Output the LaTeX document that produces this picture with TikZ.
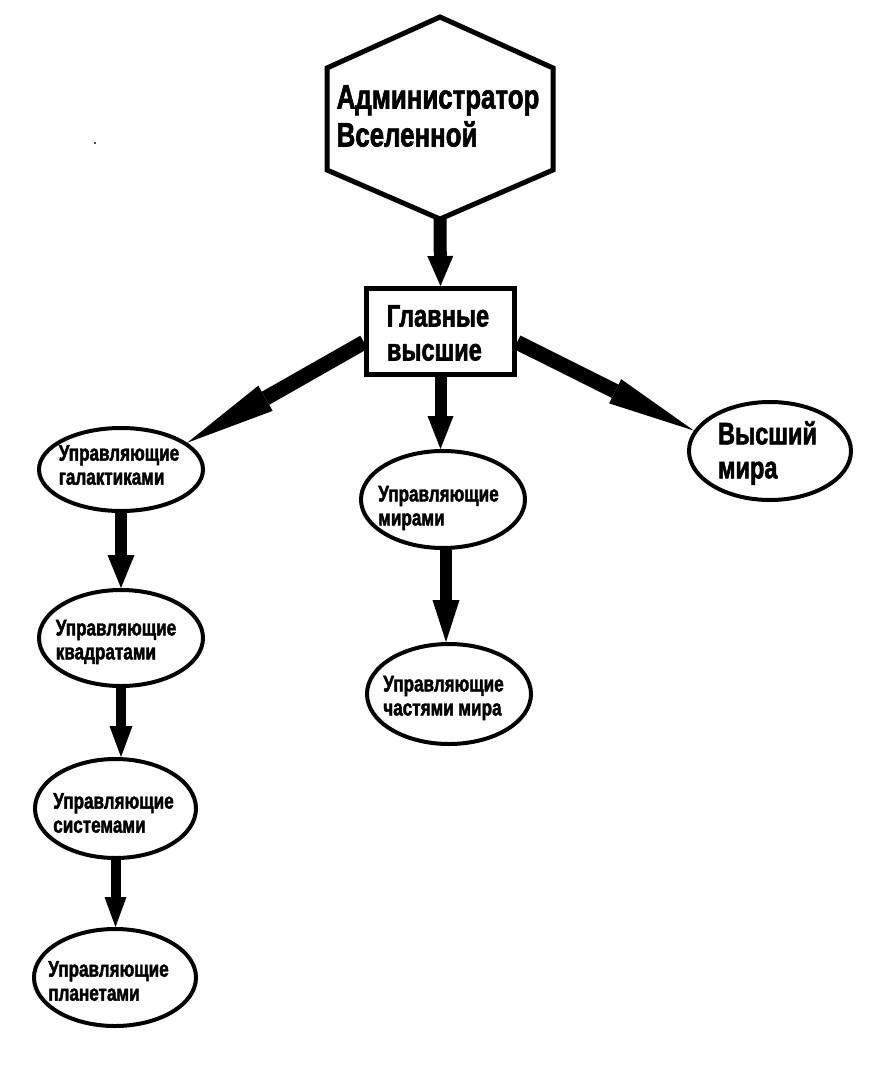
\documentclass[tikz,border=0pt]{standalone}
\usepackage{fontspec}
\newfontfamily\imp{Liberation Sans}[UprightFont={* Bold},FakeStretch=0.76,FakeBold=1.8]
\usetikzlibrary{shapes.geometric,arrows.meta}
\begin{document}
\begin{tikzpicture}[x=1pt,y=-1pt,
  ell/.style={ellipse,draw=black,line width=4pt,inner sep=0pt,fill=white},
  bigtxt/.style={font=\imp\fontsize{34}{38}\selectfont,align=left,inner sep=0pt},
  midtxt/.style={font=\imp\fontsize{31}{34}\selectfont,align=left,inner sep=0pt},
  smalltxt/.style={font=\imp\fontsize{22.5}{24}\selectfont,align=left,inner sep=0pt},
  blk/.style={line width=#1,draw=black},
]
\fill[white] (0,0) rectangle (886,1070);
\useasboundingbox (0,0) rectangle (886,1070);
\fill[black!70] (94,142) rectangle (96,144);

% hexagon
\draw[line width=5pt,line join=miter] (440,17) -- (553,68) -- (553,170) -- (440,219) -- (327,170) -- (327,68) -- cycle;
\coordinate (hexbot) at (440,219);
\node[bigtxt] (admin) at (438,116) {Администратор\\Вселенной};

% main box
\node[draw=black,line width=5pt,minimum width=148pt,minimum height=86pt,inner sep=0pt] (box) at (440.5,331.5) {};
\node[midtxt] (boxtxt) at (438,333) {Главные\\высшие};

% ellipses
\node[ell,minimum width=164pt,minimum height=83pt] (gal) at (121,469.5) {};
\node[ell,minimum width=164pt,minimum height=96pt] (sq) at (121,638) {};
\node[ell,minimum width=161pt,minimum height=99pt] (sys) at (115.5,808.5) {};
\node[ell,minimum width=162pt,minimum height=97pt] (pl) at (115,977.5) {};
\node[ell,minimum width=164pt,minimum height=97pt] (wr) at (443,499.5) {};
\node[ell,minimum width=164pt,minimum height=100pt] (pt) at (449,694) {};
\node[ell,minimum width=162pt,minimum height=98pt] (hi) at (770,451) {};

\node[smalltxt] (galtxt) at (119,465) {Управляющие\\галактиками};
\node[smalltxt] (sqtxt) at (116,642) {Управляющие\\квадратами};
\node[smalltxt] (systxt) at (113.5,813) {Управляющие\\системами};
\node[smalltxt] (pltxt) at (108.5,981) {Управляющие\\планетами};
\node[smalltxt] (wrtxt) at (438.5,508) {Управляющие\\мирами};
\node[smalltxt] (pttxt) at (443.5,698) {Управляющие\\частями мира};
\node[midtxt] (hitxt) at (767.5,453) {Высший\\мира};

% arrows
\draw[blk=13pt,-{Triangle[length=30pt,width=26pt,line width=0pt]}] (hexbot) -- (box.north);
\draw[blk=15pt,-{Triangle[length=90pt,width=29pt,line width=0pt]}] (box.188) -- (gal.22);
\draw[blk=12pt,-{Triangle[length=33pt,width=26pt,line width=0pt]}] (box.south) -- (box.south |- wr.north);
\draw[blk=15pt,-{Triangle[length=88pt,width=27pt,line width=0pt]}] (box.352) -- (hi.165);
\draw[blk=12pt,-{Triangle[length=33pt,width=27pt,line width=0pt]}] (gal.south) -- (gal.south |- sq.north);
\draw[blk=10.5pt,-{Triangle[length=31pt,width=23pt,line width=0pt]}] (sq.south) -- (sq.south |- sys.north);
\draw[blk=10pt,-{Triangle[length=30pt,width=22pt,line width=0pt]}] (sys.south) -- (sys.south |- pl.north);
\draw[blk=12pt,-{Triangle[length=42pt,width=27pt,line width=0pt]}] ([xshift=3pt]wr.south) -- ([xshift=3pt]wr.south |- pt.north);
\end{tikzpicture}
\end{document}
